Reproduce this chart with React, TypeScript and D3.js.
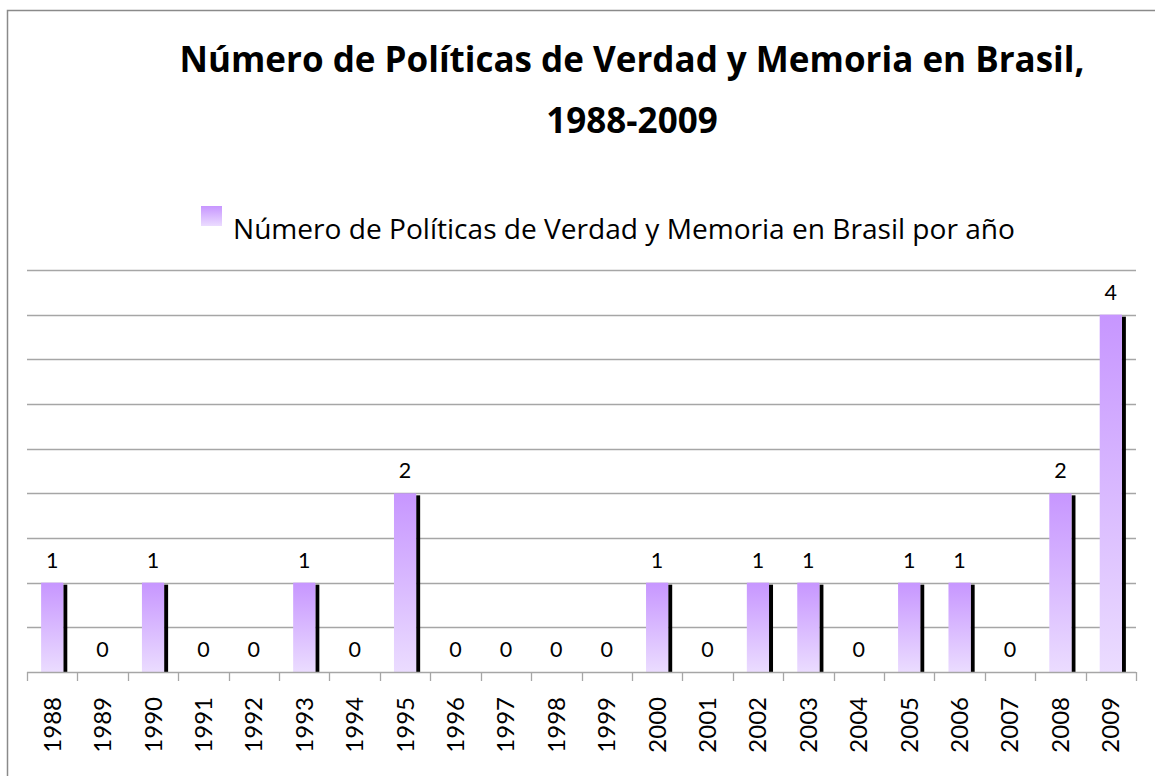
import React, { useEffect, useRef } from 'react';
import * as d3 from 'd3';

const years = [
  '1988', '1989', '1990', '1991', '1992', '1993', '1994', '1995', '1996', '1997', '1998',
  '1999', '2000', '2001', '2002', '2003', '2004', '2005', '2006', '2007', '2008', '2009',
];
const counts = [1, 0, 1, 0, 0, 1, 0, 2, 0, 0, 0, 0, 1, 0, 1, 1, 0, 1, 1, 0, 2, 4];
const titleLines = ['Número de Políticas de Verdad y Memoria en Brasil,', '1988-2009'];
const legendLabel = 'Número de Políticas de Verdad y Memoria en Brasil por año';

const W = 1155;
const H = 776;
const FONT = 'Lato, "Open Sans", sans-serif';
const WIDE = '"Open Sans", Lato, sans-serif';

const App: React.FC = () => {
  const svgRef = useRef<SVGSVGElement>(null);

  useEffect(() => {
    if (!svgRef.current) return;
    const root = d3.select(svgRef.current);
    root.selectAll('*').remove();

    const svg = root.attr('width', W).attr('height', H);

    // chart frame, only left and top edges are in view
    svg
      .append('rect')
      .attr('x', 7.5)
      .attr('y', 10.5)
      .attr('width', W + 20)
      .attr('height', H + 20)
      .attr('fill', '#fff')
      .attr('stroke', '#8a8a8a')
      .attr('stroke-width', 1.5);

    const defs = svg.append('defs');
    const grad = defs
      .append('linearGradient')
      .attr('id', 'barGrad')
      .attr('x1', '0%')
      .attr('y1', '0%')
      .attr('x2', '0%')
      .attr('y2', '100%');
    grad.append('stop').attr('offset', '0%').attr('stop-color', '#c796ff');
    grad.append('stop').attr('offset', '100%').attr('stop-color', '#ebdcff');

    // shrink/grow a text node's font so it spans the wanted width
    const fitWidth = (sel: any, size: number, target: number) => {
      const len = (sel.node() as SVGTextElement).getComputedTextLength();
      if (len > 0) sel.attr('font-size', (size * target) / len);
    };

    // Title
    const t1 = svg
      .append('text')
      .attr('x', 632)
      .attr('y', 72)
      .attr('text-anchor', 'middle')
      .attr('font-family', WIDE)
      .attr('font-weight', 'bold')
      .attr('font-size', 30)
      .attr('fill', '#000')
      .text(titleLines[0]);
    fitWidth(t1, 30, 905);
    const fs = parseFloat(t1.attr('font-size'));
    svg
      .append('text')
      .attr('x', 632)
      .attr('y', 133)
      .attr('text-anchor', 'middle')
      .attr('font-family', WIDE)
      .attr('font-weight', 'bold')
      .attr('font-size', fs)
      .attr('fill', '#000')
      .text(titleLines[1]);

    // Legend
    svg
      .append('rect')
      .attr('x', 201)
      .attr('y', 206)
      .attr('width', 21)
      .attr('height', 20)
      .attr('fill', 'url(#barGrad)');
    const lt = svg
      .append('text')
      .attr('x', 233)
      .attr('y', 239)
      .attr('font-family', WIDE)
      .attr('font-size', 24)
      .attr('fill', '#000')
      .text(legendLabel);
    fitWidth(lt, 24, 782);

    // Scales
    const x = d3.scaleBand<string>().domain(years).range([27, 1136]).padding(0);
    const y = d3.scaleLinear().domain([0, 4.5]).range([672, 270]);
    const barW = x.bandwidth() * 0.44;

    // Gridlines
    svg
      .append('g')
      .selectAll('line')
      .data(y.ticks(9).filter(t => t > 0))
      .join('line')
      .attr('x1', 27)
      .attr('x2', 1136)
      .attr('y1', d => Math.round(y(d)) + 0.5)
      .attr('y2', d => Math.round(y(d)) + 0.5)
      .attr('stroke', '#a6a6a6')
      .attr('stroke-width', 1.3);

    // Bars with a black shadow strip on the right
    const bars = svg.append('g');
    years.forEach((yr, i) => {
      const v = counts[i];
      if (v <= 0) return;
      const cx = (x(yr) ?? 0) + x.bandwidth() / 2;
      const top = y(v);
      bars
        .append('rect')
        .attr('x', cx + barW / 2)
        .attr('y', top + 2)
        .attr('width', 4)
        .attr('height', y(0) - top - 2)
        .attr('fill', '#000');
      bars
        .append('rect')
        .attr('x', cx - barW / 2)
        .attr('y', top)
        .attr('width', barW)
        .attr('height', y(0) - top)
        .attr('fill', 'url(#barGrad)');
    });

    // Baseline and category ticks
    const axis = svg.append('g');
    axis
      .append('line')
      .attr('x1', 27)
      .attr('x2', 1136)
      .attr('y1', 672.5)
      .attr('y2', 672.5)
      .attr('stroke', '#a6a6a6')
      .attr('stroke-width', 1.3);
    const bounds = years.map(yr => x(yr) ?? 0).concat([1136]);
    axis
      .selectAll('line.tick')
      .data(bounds)
      .join('line')
      .attr('class', 'tick')
      .attr('x1', d => Math.round(d) + 0.5)
      .attr('x2', d => Math.round(d) + 0.5)
      .attr('y1', 672)
      .attr('y2', 681)
      .attr('stroke', '#a6a6a6')
      .attr('stroke-width', 1.3);

    axis
      .selectAll('text')
      .data(years)
      .join('text')
      .attr('transform', d => `translate(${(x(d) ?? 0) + x.bandwidth() / 2 + 8.5},697) rotate(-90)`)
      .attr('text-anchor', 'end')
      .attr('font-family', FONT)
      .attr('font-size', 24)
      .attr('fill', '#000')
      .text(d => d);

    // Data labels
    svg
      .append('g')
      .selectAll('text')
      .data(years)
      .join('text')
      .attr('x', d => (x(d) ?? 0) + x.bandwidth() / 2)
      .attr('y', (_, i) => y(counts[i]) - 15)
      .attr('text-anchor', 'middle')
      .attr('font-family', FONT)
      .attr('font-size', 21.5)
      .attr('fill', '#000')
      .text((_, i) => String(counts[i]));
  }, []);

  return <svg ref={svgRef} style={{ position: 'absolute', left: 0, top: 0 }} />;
};

export default App;
